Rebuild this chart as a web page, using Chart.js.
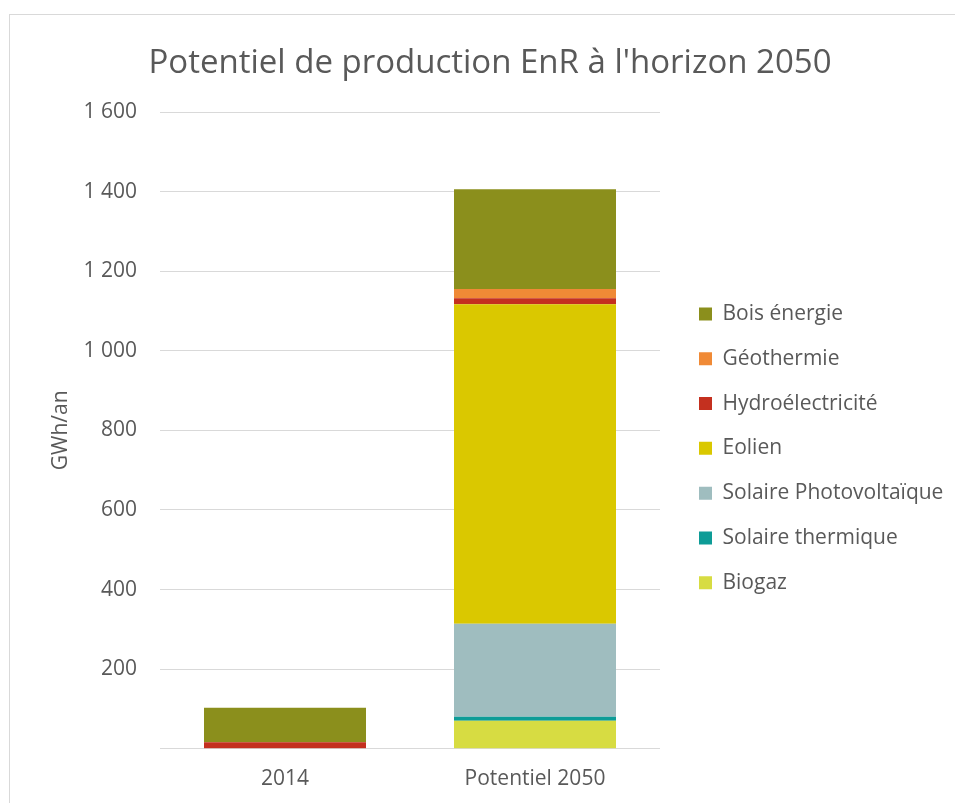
<!DOCTYPE html>
<html>
<head>
<meta charset="utf-8">
<script src="https://cdn.jsdelivr.net/npm/chart.js@4/dist/chart.umd.min.js"></script>
<style>
  html, body { margin: 0; padding: 0; background: #ffffff; }
  #frame { position: absolute; left: 9px; top: 14px; width: 2000px; height: 2000px;
           border-left: 1px solid #d9d9d9; border-top: 1px solid #d9d9d9; }
  #wrap { position: absolute; left: 0; top: 0; width: 955px; height: 803px; }
</style>
</head>
<body>
<div id="frame"></div>
<div id="wrap"><canvas id="c" width="955" height="803"></canvas></div>
<script>
// ---- Data ----
const categories = ['2014', 'Potentiel 2050'];
const seriesNames = ['Biogaz', 'Solaire thermique', 'Solaire Photovoltaïque', 'Eolien', 'Hydroélectricité', 'Géothermie', 'Bois énergie'];
const biogaz = [0, 70];
const solaireThermique = [0, 10];
const solairePV = [0, 234];
const eolien = [0, 803];
const hydro = [16, 15];
const geothermie = [0, 23];
const boisEnergie = [87, 251];
const yTicks = [0, 200, 400, 600, 800, 1000, 1200, 1400, 1600];
const chartTitle = "Potentiel de production EnR à l'horizon 2050";
const yAxisTitle = 'GWh/an';

const seriesValues = [biogaz, solaireThermique, solairePV, eolien, hydro, geothermie, boisEnergie];
const seriesColors = ['#D7DC42', '#0E9C97', '#9FBDBF', '#DAC800', '#C4301F', '#F08A36', '#8B8F1C'];

const FAMILY = '"Open Sans", Lato, sans-serif';
const TXT = '#595959';
const LEG_SIZE = 21, LEG_BOX = 13, LEG_PAD = 23.8;

// legend geometry: legend box must occupy the space right of the plot
const mctx = document.createElement('canvas').getContext('2d');
mctx.font = 'normal ' + LEG_SIZE + 'px ' + FAMILY;
const widest = Math.max(...seriesNames.map(n => mctx.measureText(n).width));
const legNatural = LEG_PAD + LEG_BOX + LEG_SIZE / 2 + widest + 10;
const PAD_IN = 15.2;
const LEG_MAX = 295 - PAD_IN;
const PAD_OUT = Math.max(0, LEG_MAX - legNatural);

const datasets = seriesNames.map((n, i) => ({
  label: n,
  data: seriesValues[i],
  backgroundColor: seriesColors[i],
  borderWidth: 0,
  categoryPercentage: 1.0,
  barPercentage: 0.648
}));

function fmt(v) {
  if (v === 0) return '';
  return String(v).replace(/\B(?=(\d{3})+(?!\d))/g, ' ');
}

new Chart(document.getElementById('c'), {
  type: 'bar',
  data: { labels: categories, datasets },
  options: {
    responsive: false,
    animation: false,
    devicePixelRatio: 1,
    layout: { padding: { left: 25, right: 0, top: 0, bottom: 0 } },
    plugins: {
      title: {
        display: true,
        text: chartTitle,
        color: TXT,
        font: { family: FAMILY, size: 33, weight: 'normal', lineHeight: 1.2 },
        padding: { top: 43.5, bottom: 28.9 }
      },
      legend: {
        display: true,
        position: 'right',
        fullSize: false,
        reverse: true,
        maxWidth: LEG_MAX,
        title: { display: true, text: ' ', font: { size: 10, lineHeight: 1 }, padding: { top: 26, bottom: 0 } },
        labels: {
          color: TXT,
          font: { family: FAMILY, size: LEG_SIZE },
          boxWidth: LEG_BOX,
          boxHeight: LEG_BOX,
          padding: LEG_PAD
        }
      },
      tooltip: { enabled: false }
    },
    scales: {
      x: {
        stacked: true,
        grid: { display: false, drawTicks: false },
        border: { display: false },
        ticks: { color: TXT, font: { family: FAMILY, size: 21 }, padding: 18 },
        afterFit: s => { s.height = 54.3; }
      },
      y: {
        stacked: true,
        min: 0,
        max: 1600,
        afterBuildTicks: s => { s.ticks = yTicks.map(v => ({ value: v })); },
        grid: { color: '#d9d9d9', lineWidth: 1, drawTicks: false },
        border: { display: false },
        ticks: { color: TXT, font: { family: FAMILY, size: 21 }, padding: 23, callback: v => fmt(v) },
        title: { display: true, text: yAxisTitle, color: TXT, font: { family: FAMILY, size: 21, lineHeight: 1.2 }, padding: { top: 23.5, bottom: 0 } },
        afterFit: s => { s.width = 135; }
      },
      padIn: {
        position: 'right', display: true, weight: 0,
        grid: { display: false, drawTicks: false }, border: { display: false },
        ticks: { display: false },
        afterFit: s => { s.width = PAD_IN; }
      },
      padOut: {
        position: 'right', display: true, weight: 2000,
        grid: { display: false, drawTicks: false }, border: { display: false },
        ticks: { display: false },
        afterFit: s => { s.width = PAD_OUT; }
      }
    }
  }
});
</script>
</body>
</html>
